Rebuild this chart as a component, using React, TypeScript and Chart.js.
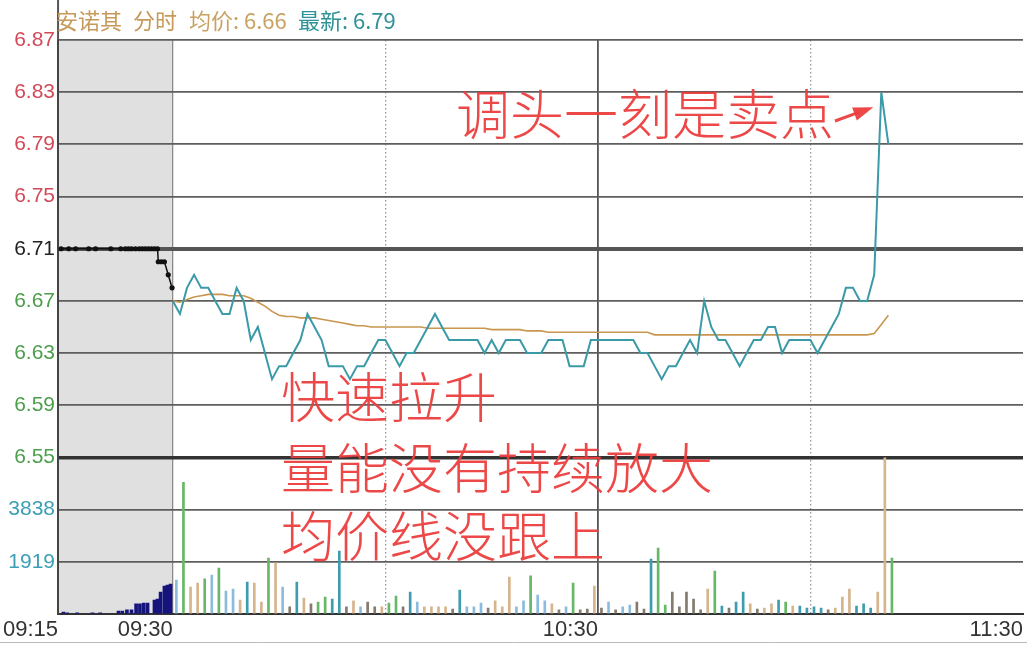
import React, { useEffect, useRef } from 'react';
import { Chart, registerables } from 'chart.js';

Chart.register(...registerables);

// ---------- header texts ----------
const TITLE_PARTS = [
  { text: '安诺其', x: 56, color: '#c59a5a' },
  { text: '分时', x: 133, color: '#c59a5a' },
  { text: '均价: 6.66', x: 189, color: '#c9a263' },
  { text: '最新: 6.79', x: 298, color: '#2f9297' },
];

// ---------- axes ----------
const PRICE_TICKS = [6.55, 6.59, 6.63, 6.67, 6.71, 6.75, 6.79, 6.83, 6.87];
const PREV_CLOSE = 6.71;
const VOLUME_TICKS = [0, 1919, 3838, 5757];
const VOLUME_LABELED = [false, true, true, false];

const TIME_TICK_MINUTES = [-15, 0, 30, 60, 90, 120]; // minutes from 09:30
const TIME_LABELS = ['09:15', '09:30', '10:00', '10:30', '11:00', '11:30'];
const TIME_LABELED = [true, true, false, true, false, true];
const PRE_STRETCH = 1.08; // auction segment is drawn a bit wider

// ---------- call auction (09:15 - 09:30), minutes from 09:30 ----------
const PRE_TIMES = [-14.6, -13.6, -12.7, -11.0, -10.1, -8.1, -6.8, -6.2, -5.8, -5.4, -4.9, -4.4, -4.0, -3.6, -3.2, -2.8, -2.4, -2.0, -1.9, -1.5, -1.1, -0.6, -0.1];
const PRE_PRICES = [6.71, 6.71, 6.71, 6.71, 6.71, 6.71, 6.71, 6.71, 6.71, 6.71, 6.71, 6.71, 6.71, 6.71, 6.71, 6.71, 6.71, 6.71, 6.70, 6.70, 6.70, 6.69, 6.68];
const PRE_VOL_TIMES = [-14.3, -13.8, -12.5, -10.5, -9.5, -7.1, -6.6, -6.0, -5.4, -4.8, -4.3, -3.8, -3.3, -2.4, -2.0, -1.6, -1.1, -0.7, -0.3];
const PRE_VOLUMES = [75, 40, 40, 40, 40, 110, 110, 150, 150, 370, 370, 400, 400, 510, 550, 810, 1030, 1060, 1100];

// ---------- continuous session, one value per minute from 09:30 ----------
const PRICES = [
  6.67, 6.66, 6.68, 6.69, 6.68, 6.68, 6.67, 6.66, 6.66, 6.68,
  6.67, 6.64, 6.65, 6.63, 6.61, 6.62, 6.62, 6.63, 6.64, 6.66,
  6.65, 6.64, 6.62, 6.62, 6.62, 6.61, 6.62, 6.62, 6.63, 6.64,
  6.64, 6.63, 6.62, 6.63, 6.63, 6.64, 6.65, 6.66, 6.65, 6.64,
  6.64, 6.64, 6.64, 6.64, 6.63, 6.64, 6.63, 6.64, 6.64, 6.64,
  6.63, 6.63, 6.63, 6.64, 6.64, 6.64, 6.62, 6.62, 6.62, 6.64,
  6.64, 6.64, 6.64, 6.64, 6.64, 6.64, 6.63, 6.63, 6.62, 6.61,
  6.62, 6.62, 6.63, 6.64, 6.63, 6.67, 6.65, 6.64, 6.64, 6.63,
  6.62, 6.63, 6.64, 6.64, 6.65, 6.65, 6.63, 6.64, 6.64, 6.64,
  6.64, 6.63, 6.64, 6.65, 6.66, 6.68, 6.68, 6.67, 6.67, 6.69,
  6.83, 6.79,
];
const AVG_PRICES = [
  6.670, 6.669, 6.671, 6.673, 6.674, 6.675, 6.675, 6.675, 6.674, 6.674,
  6.674, 6.672, 6.669, 6.666, 6.662, 6.659, 6.658, 6.658, 6.657, 6.657,
  6.657, 6.656, 6.655, 6.654, 6.653, 6.652, 6.651, 6.651, 6.650, 6.650,
  6.650, 6.650, 6.650, 6.650, 6.650, 6.650, 6.649, 6.649, 6.649, 6.649,
  6.649, 6.649, 6.649, 6.649, 6.649, 6.648, 6.648, 6.648, 6.648, 6.648,
  6.647, 6.647, 6.647, 6.646, 6.646, 6.646, 6.646, 6.646, 6.646, 6.646,
  6.646, 6.646, 6.646, 6.646, 6.646, 6.646, 6.646, 6.646, 6.644, 6.644,
  6.644, 6.644, 6.644, 6.644, 6.644, 6.644, 6.644, 6.644, 6.644, 6.644,
  6.644, 6.644, 6.644, 6.644, 6.644, 6.644, 6.644, 6.644, 6.644, 6.644,
  6.644, 6.644, 6.644, 6.644, 6.644, 6.644, 6.644, 6.644, 6.644, 6.645,
  6.652, 6.659,
];
const VOLUMES = [
  1250, 4840, 990, 1140, 1290, 1430, 1690, 840, 920, 510,
  1170, 1140, 440, 2060, 1870, 990, 260, 1170, 590, 370,
  440, 620, 550, 2310, 260, 480, 260, 440, 260, 260,
  400, 660, 260, 810, 440, 260, 260, 260, 260, 180,
  880, 260, 260, 400, 220, 480, 260, 1360, 260, 480,
  1400, 700, 480, 370, 150, 260, 1140, 150, 180, 1030,
  220, 440, 150, 260, 330, 440, 180, 2020, 2420, 330,
  810, 260, 810, 550, 150, 920, 1580, 290, 220, 440,
  810, 370, 180, 220, 370, 510, 440, 290, 290, 220,
  260, 220, 150, 220, 620, 920, 290, 370, 220, 810,
  5757, 2060,
];
const VOLUME_COLOR_CODES =
  'BGTTGBGBBT' + 'CTTGTBDCTD' + 'GGCCDTBDDT' + 'GGDCBTTTTD' + 'CBBBDTTTBB' +
  'GBBTDBGDDT' + 'DBDBBDDCGG' + 'DDDDDTGCDC' + 'CTDTTCGTCC' + 'CCDTTTCCCT' + 'TG';
const COLOR_MAP: Record<string, string> = {
  G: '#66b866',
  T: '#d6b48c',
  B: '#8cbcdc',
  C: '#3d9cad',
  D: '#857a6e',
};

// ---------- hand-written notes ----------
const NOTES = [
  { text: '调头一刻是卖点', x: 456, y: 114 },
  { text: '快速拉升', x: 281, y: 397 },
  { text: '量能没有持续放大', x: 281, y: 468 },
  { text: '均价线没跟上', x: 281, y: 536 },
];
const NOTE_COLOR = 'rgba(236, 62, 62, 0.95)';

const toAxis = (m: number) => (m < 0 ? m * PRE_STRETCH : m);

const decorPlugin = {
  id: 'decor',
  beforeDraw(chart: any) {
    const { ctx, chartArea, scales } = chart;
    const x = scales.x;
    const l = x.getPixelForValue(toAxis(-15));
    const r = x.getPixelForValue(0);
    ctx.save();
    ctx.fillStyle = '#e0e0e0';
    ctx.fillRect(l, chartArea.top, r - l, chartArea.bottom - chartArea.top);
    ctx.restore();
  },
  afterDraw(chart: any) {
    const { ctx, chartArea, scales, width, height } = chart;
    ctx.save();
    // frame bits
    ctx.strokeStyle = '#555';
    ctx.lineWidth = 2;
    ctx.beginPath();
    ctx.moveTo(chartArea.left, 0);
    ctx.lineTo(chartArea.left, chartArea.top);
    ctx.stroke();
    ctx.strokeStyle = '#bbb';
    ctx.lineWidth = 1;
    ctx.beginPath();
    ctx.moveTo(0, height - 2.5);
    ctx.lineTo(width, height - 2.5);
    ctx.stroke();

    // header
    ctx.font = '22px "Noto Sans CJK SC", sans-serif';
    ctx.textBaseline = 'middle';
    ctx.textAlign = 'left';
    for (const p of TITLE_PARTS) {
      ctx.fillStyle = p.color;
      ctx.fillText(p.text, p.x, 21);
    }

    // notes
    ctx.font = '300 54px "Noto Sans CJK SC", sans-serif';
    ctx.fillStyle = NOTE_COLOR;
    for (const n of NOTES) ctx.fillText(n.text, n.x, n.y);

    // arrow to the peak
    const peakIdx = PRICES.indexOf(Math.max(...PRICES));
    const px = scales.x.getPixelForValue(peakIdx);
    const py = scales.price.getPixelForValue(PRICES[peakIdx]);
    const tip = [px - 8, py + 15];
    const tail = [835, 121];
    ctx.strokeStyle = NOTE_COLOR;
    ctx.lineWidth = 3;
    ctx.beginPath();
    ctx.moveTo(tail[0], tail[1]);
    ctx.lineTo(tip[0] - 14, tip[1] + 5);
    ctx.stroke();
    const ang = Math.atan2(tip[1] - tail[1], tip[0] - tail[0]);
    ctx.beginPath();
    ctx.moveTo(tip[0], tip[1]);
    ctx.lineTo(tip[0] - 20 * Math.cos(ang) + 7 * Math.sin(ang), tip[1] - 20 * Math.sin(ang) - 7 * Math.cos(ang));
    ctx.lineTo(tip[0] - 20 * Math.cos(ang) - 7 * Math.sin(ang), tip[1] - 20 * Math.sin(ang) + 7 * Math.cos(ang));
    ctx.closePath();
    ctx.fillStyle = NOTE_COLOR;
    ctx.fill();
    ctx.restore();
  },
};

export default function App() {
  const ref = useRef<HTMLCanvasElement | null>(null);

  useEffect(() => {
    document.body.style.margin = '0';
    document.body.style.overflow = 'hidden';
    const canvas = ref.current;
    if (!canvas) return;

    const priceLine = PRICES.map((p, i) => ({ x: i, y: p }));
    const avgLine = AVG_PRICES.map((p, i) => ({ x: i, y: p }));
    const volBars = VOLUMES.map((v, i) => ({ x: i + 0.5, y: v }));
    const volColors = VOLUMES.map((_, i) => COLOR_MAP[VOLUME_COLOR_CODES[i]] || '#888');
    const preLine = PRE_TIMES.map((t, i) => ({ x: toAxis(t), y: PRE_PRICES[i] }));
    const preBars = PRE_VOL_TIMES.map((t, i) => ({ x: toAxis(t), y: PRE_VOLUMES[i] }));

    const tickFont = { family: '"Liberation Sans", Arial, sans-serif', size: 21 };
    const GRID = '#5e5e5e';

    const chart = new Chart(canvas, {
      type: 'line',
      data: {
        datasets: [
          {
            type: 'line',
            label: '最新',
            data: priceLine,
            yAxisID: 'price',
            borderColor: '#3a9aa8',
            borderWidth: 2,
            pointRadius: 0,
            tension: 0,
            order: 1,
          },
          {
            type: 'line',
            label: '集合竞价',
            data: preLine,
            yAxisID: 'price',
            borderColor: '#111',
            backgroundColor: '#111',
            borderWidth: 1.5,
            pointRadius: 2.6,
            pointBackgroundColor: '#111',
            pointBorderWidth: 0,
            tension: 0,
            order: 2,
          },
          {
            type: 'line',
            label: '均价',
            data: avgLine,
            yAxisID: 'price',
            borderColor: '#c8964e',
            borderWidth: 1.6,
            pointRadius: 0,
            tension: 0,
            order: 3,
          },
          {
            type: 'bar',
            label: '成交量',
            data: volBars,
            yAxisID: 'vol',
            backgroundColor: volColors,
            barThickness: 2,
            grouped: false,
            order: 4,
          } as any,
          {
            type: 'bar',
            label: '竞价量',
            data: preBars,
            yAxisID: 'vol',
            backgroundColor: '#14147c',
            barThickness: 3,
            grouped: false,
            order: 5,
          } as any,
        ],
      },
      options: {
        responsive: false,
        animation: false,
        events: [],
        layout: { padding: { top: 40, left: 0, right: 0, bottom: 0 } },
        plugins: {
          legend: { display: false },
          tooltip: { enabled: false },
          title: { display: false },
        },
        scales: {
          x: {
            type: 'linear',
            min: toAxis(-15),
            max: 120,
            offset: false,
            afterFit: (s: any) => {
              s.height = 31;
            },
            afterBuildTicks: (s: any) => {
              s.ticks = TIME_TICK_MINUTES.map((m) => ({ value: toAxis(m) }));
            },
            ticks: {
              autoSkip: false,
              maxRotation: 0,
              align: 'end',
              padding: 3,
              color: '#333',
              font: { family: '"Liberation Sans", Arial, sans-serif', size: 22 },
              callback: (_v: any, i: number) => (TIME_LABELED[i] ? TIME_LABELS[i] : ''),
            },
            grid: {
              offset: false,
              drawTicks: false,
              color: (c: any) => {
                const i = c.index;
                if (i === 0) return '#444';
                if (i === 1) return '#8a8a8a';
                if (i === 3) return '#555';
                if (i === 5) return 'rgba(0,0,0,0)';
                return '#999';
              },
              lineWidth: (c: any) => (c.index === 3 ? 1.8 : c.index === 0 ? 2 : 1.3),
            },
            border: {
              display: true,
              color: '#333',
              width: 2,
              dash: (c: any) => (c.index === 2 || c.index === 4 ? [1.5, 2.5] : []),
            } as any,
          },
          vol: {
            type: 'linear',
            position: 'left',
            stack: 'left',
            stackWeight: 3,
            min: 0,
            max: 5757,
            afterFit: (s: any) => {
              s.width = 57;
            },
            afterBuildTicks: (s: any) => {
              s.ticks = VOLUME_TICKS.map((v) => ({ value: v }));
            },
            ticks: {
              autoSkip: false,
              padding: 3,
              color: '#3b9fb5',
              font: tickFont,
              callback: (v: any) => {
                const i = VOLUME_TICKS.indexOf(Number(v));
                return VOLUME_LABELED[i] ? String(v) : '';
              },
            },
            grid: {
              drawTicks: false,
              color: (c: any) => (c.tick && (c.tick.value === 0 || c.tick.value === 5757) ? 'rgba(0,0,0,0)' : GRID),
              lineWidth: 1.8,
            },
            border: { display: true, color: '#444', width: 2 },
          } as any,
          price: {
            type: 'linear',
            position: 'left',
            stack: 'left',
            stackWeight: 8,
            min: 6.55,
            max: 6.87,
            afterFit: (s: any) => {
              s.width = 57;
            },
            afterBuildTicks: (s: any) => {
              s.ticks = PRICE_TICKS.map((v) => ({ value: v }));
            },
            ticks: {
              autoSkip: false,
              padding: 3,
              font: tickFont,
              color: (c: any) => {
                const v = c.tick ? c.tick.value : 0;
                if (Math.abs(v - PREV_CLOSE) < 1e-6) return '#222';
                return v > PREV_CLOSE ? '#d24a58' : '#4c9e4c';
              },
              callback: (v: any) => Number(v).toFixed(2),
            },
            grid: {
              drawTicks: false,
              color: (c: any) => {
                const v = c.tick ? c.tick.value : 0;
                if (Math.abs(v - PREV_CLOSE) < 1e-6) return '#555';
                if (Math.abs(v - 6.55) < 1e-6) return '#333';
                return GRID;
              },
              lineWidth: (c: any) => {
                const v = c.tick ? c.tick.value : 0;
                if (Math.abs(v - PREV_CLOSE) < 1e-6) return 4;
                if (Math.abs(v - 6.55) < 1e-6) return 3.5;
                return 1.8;
              },
            },
            border: { display: true, color: '#444', width: 2 },
          } as any,
        },
      },
      plugins: [decorPlugin],
    } as any);

    return () => chart.destroy();
  }, []);

  return (
    <div style={{ position: 'relative', width: 1027, height: 645, background: '#fff' }}>
      <canvas ref={ref} width={1027} height={645} style={{ display: 'block', width: 1027, height: 645 }} />
    </div>
  );
}
